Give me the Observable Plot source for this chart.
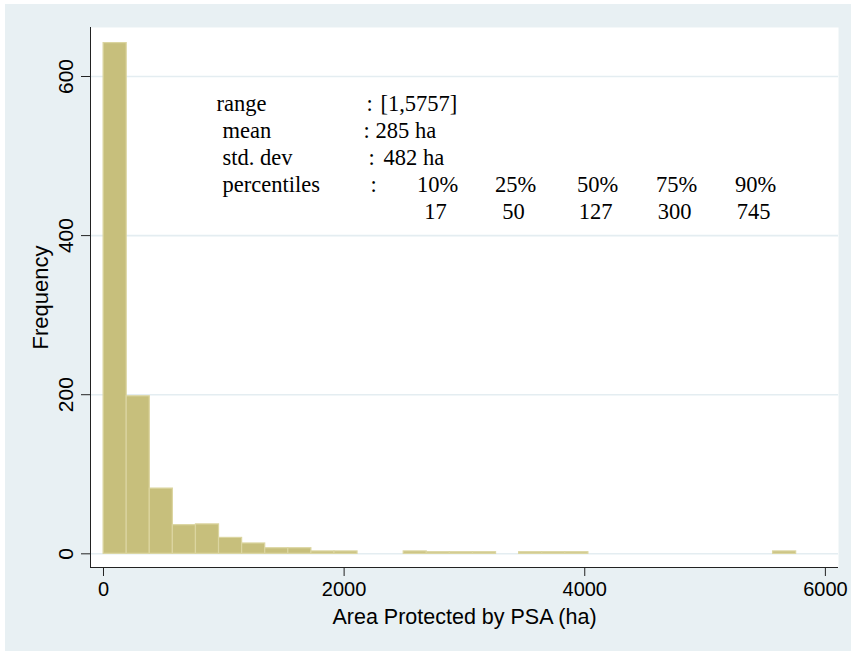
<!DOCTYPE html>
<html>
<head>
<meta charset="utf-8">
<script src="https://cdn.jsdelivr.net/npm/d3@7"></script>
<script src="https://cdn.jsdelivr.net/npm/@observablehq/plot@0.6"></script>
<style>
  html, body { margin: 0; padding: 0; background: #ffffff; }
  #wrap { padding: 4px 0 0 5px; width: 846px; height: 647px; }
  #wrap svg { display: block; background: #e8f0f3; }
</style>
</head>
<body>
<div id="wrap"></div>
<script>
// Histogram of area protected by PSA (ha): 30 equal bins over the range [1, 5757]
const rangeMin = 1;
const rangeMax = 5757;
const binCount = 30;
const counts = [642, 198, 82, 36, 37, 20, 13, 7, 7, 3, 3, 0, 0, 3, 2, 2, 2, 0, 2, 2, 2, 0, 0, 0, 0, 0, 0, 0, 0, 3];

const xTicks = [0, 2000, 4000, 6000];
const yTicks = [0, 200, 400, 600];
const xLabel = "Area Protected by PSA (ha)";
const yLabel = "Frequency";

const statLabels = ["range", "mean", "std. dev", "percentiles"];
const statValues = ["[1,5757]", "285 ha", "482 ha", ""];
const pctLabels = ["10%", "25%", "50%", "75%", "90%"];
const pctValues = [17, 50, 127, 300, 745];

const binWidth = (rangeMax - rangeMin) / binCount;
const bins = counts.map((c, i) => ({
  x1: rangeMin + i * binWidth,
  x2: rangeMin + (i + 1) * binWidth,
  count: c
})).filter(d => d.count > 0);

const sans = "'Liberation Sans', Arial, sans-serif";
const serif = "'Liberation Serif', 'Times New Roman', serif";
const serifSize = 22.5;
const annot = [];
// layout of the annotation block (offsets from the frame's top-left)
const rowDy = [76, 103, 130, 157];
const labelDx = [126, 132, 132, 132];
const colonDx = [276, 273, 278, 280];
const valueDx = [290, 285, 293, 0];
const tx = (t, dx, dy, anchor) => Plot.text([t], {text: d => d, frameAnchor: "top-left", dx, dy, textAnchor: anchor, lineAnchor: "middle", fontFamily: serif, fontSize: serifSize, fill: "#000"});
statLabels.forEach((s, i) => {
  annot.push(tx(s, labelDx[i], rowDy[i], "start"));
  annot.push(tx(":", colonDx[i], rowDy[i], "start"));
  if (statValues[i]) annot.push(tx(statValues[i], valueDx[i], rowDy[i], "start"));
});
const pctDx = [347, 425, 507, 586, 665];
pctLabels.forEach((p, i) => {
  annot.push(tx(p, pctDx[i], 157, "middle"));
  annot.push(tx(String(pctValues[i]), pctDx[i] - 2, 184, "middle"));
});

const chart = Plot.plot({
  width: 846,
  height: 647,
  marginLeft: 85,
  marginRight: 13,
  marginTop: 23,
  marginBottom: 84,
  style: {fontFamily: sans, fontSize: "20px", color: "#000", background: "#e8f0f3"},
  x: {domain: [-108, 6109], ticks: xTicks, label: null},
  y: {domain: [-17.2, 661.6], ticks: yTicks, label: null},
  marks: [
    Plot.frame({fill: "white", stroke: "none"}),
    Plot.ruleY(yTicks, {stroke: "#e4edf1", strokeWidth: 1.6}),
    Plot.rectY(bins, {x1: "x1", x2: "x2", y: "count", fill: "#c7bf7c", stroke: "#dbd5a0", strokeWidth: 1.2}),
    Plot.axisX({ticks: xTicks, tickSize: 9, tickPadding: 5, tickFormat: d => String(d), fontSize: 20, label: null, stroke: "#222"}),
    Plot.axisY({ticks: yTicks, tickSize: 9, tickPadding: 9, tickRotate: -90, tickFormat: d => String(d), fontSize: 21, label: null, stroke: "#222"}),
    Plot.ruleX([-108], {stroke: "#222", strokeWidth: 1}),
    Plot.ruleY([-17.2], {stroke: "#222", strokeWidth: 1}),
    Plot.text([xLabel], {text: d => d, frameAnchor: "bottom", dy: 50, textAnchor: "middle", lineAnchor: "middle", fontFamily: sans, fontSize: 21.5, fill: "#000"}),
    Plot.text([yLabel], {text: d => d, frameAnchor: "left", dx: -50, rotate: -90, textAnchor: "middle", lineAnchor: "middle", fontFamily: sans, fontSize: 22, fill: "#000"}),
    ...annot
  ]
});
document.getElementById("wrap").appendChild(chart);
</script>
</body>
</html>
